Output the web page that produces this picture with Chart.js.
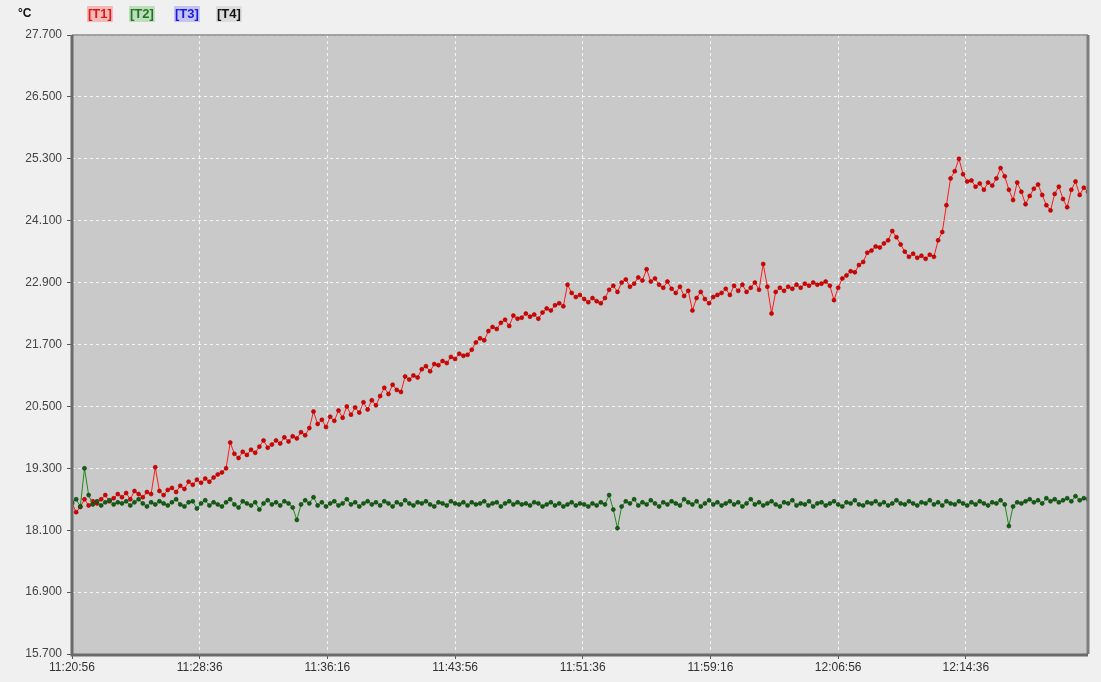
<!DOCTYPE html>
<html>
<head>
<meta charset="utf-8">
<title>Temperature log</title>
<script src="https://cdn.jsdelivr.net/npm/chart.js@4/dist/chart.umd.min.js"></script>
<style>
  html, body { margin: 0; padding: 0; background: #f0f0f0; }
  #wrap { position: relative; width: 1101px; height: 682px; }
  canvas { display: block; }
</style>
</head>
<body>
<div id="wrap"><canvas id="chart" width="1101" height="682"></canvas></div>
<script>
// Logger settings
const startTime = "11:20:56";
const endTime = "12:21:56";
const sampleStepSec = 15;

// Axis ticks
const timeTicks = ["11:20:56", "11:28:36", "11:36:16", "11:43:56", "11:51:36", "11:59:16", "12:06:56", "12:14:36"];
const tempTicks = [15.7, 16.9, 18.1, 19.3, 20.5, 21.7, 22.9, 24.1, 25.3, 26.5, 27.7];

// Channel legend
const channelNames = ["[T1]", "[T2]", "[T3]", "[T4]"];
const unitLabel = "°C";

// Channel T1 readings (°C), one per sample step
const t1Values = [
  18.62, 18.45, 18.55, 18.70, 18.58, 18.66, 18.62, 18.70, 18.78, 18.66, 18.72, 18.80,
  18.74, 18.82, 18.70, 18.86, 18.80, 18.74, 18.84, 18.80, 19.32, 18.86, 18.78, 18.88,
  18.92, 18.84, 18.96, 18.90, 19.04, 18.98, 19.08, 19.02, 19.10, 19.04, 19.12, 19.18,
  19.22, 19.30, 19.80, 19.58, 19.50, 19.62, 19.56, 19.66, 19.60, 19.72, 19.84, 19.70,
  19.76, 19.84, 19.78, 19.90, 19.82, 19.92, 19.88, 20.00, 19.94, 20.08, 20.40, 20.16,
  20.24, 20.10, 20.30, 20.22, 20.42, 20.28, 20.50, 20.34, 20.48, 20.38, 20.58, 20.44,
  20.62, 20.52, 20.70, 20.86, 20.74, 20.92, 20.82, 20.78, 21.08, 21.02, 21.10, 21.06,
  21.22, 21.28, 21.18, 21.32, 21.30, 21.38, 21.34, 21.46, 21.42, 21.52, 21.48, 21.50,
  21.60, 21.74, 21.82, 21.78, 21.96, 22.04, 22.00, 22.12, 22.18, 22.06, 22.26, 22.20,
  22.22, 22.30, 22.24, 22.28, 22.20, 22.32, 22.40, 22.36, 22.46, 22.50, 22.44, 22.86,
  22.70, 22.62, 22.66, 22.58, 22.52, 22.60, 22.54, 22.50, 22.60, 22.76, 22.84, 22.72,
  22.90, 22.96, 22.82, 22.88, 23.00, 22.94, 23.16, 22.92, 22.98, 22.86, 22.80, 22.92,
  22.78, 22.70, 22.82, 22.64, 22.74, 22.36, 22.60, 22.72, 22.58, 22.50, 22.62, 22.66,
  22.70, 22.78, 22.66, 22.84, 22.74, 22.86, 22.72, 22.80, 22.90, 22.76, 23.26, 22.82,
  22.30, 22.72, 22.80, 22.74, 22.82, 22.78, 22.86, 22.80, 22.88, 22.84, 22.90, 22.86,
  22.88, 22.92, 22.84, 22.56, 22.80, 22.98, 23.04, 23.12, 23.10, 23.24, 23.30, 23.48,
  23.52, 23.60, 23.58, 23.66, 23.72, 23.90, 23.78, 23.64, 23.50, 23.40, 23.46, 23.38,
  23.42, 23.36, 23.44, 23.40, 23.72, 23.88, 24.40, 24.92, 25.06, 25.30, 25.00, 24.86,
  24.88, 24.76, 24.82, 24.70, 24.84, 24.78, 24.92, 25.12, 24.96, 24.70, 24.50, 24.84,
  24.66, 24.42, 24.58, 24.72, 24.80, 24.60, 24.40, 24.30, 24.62, 24.76, 24.52, 24.36,
  24.70, 24.86, 24.60, 24.74, 24.66
];

// Channel T2 readings (°C), one per sample step
const t2Values = [
  18.64, 18.70, 18.56, 19.30, 18.78, 18.60, 18.66, 18.58, 18.64, 18.68, 18.60, 18.64,
  18.62, 18.66, 18.58, 18.64, 18.70, 18.62, 18.56, 18.64, 18.60, 18.66, 18.62, 18.58,
  18.64, 18.70, 18.60, 18.56, 18.64, 18.66, 18.52, 18.62, 18.68, 18.58, 18.64, 18.60,
  18.56, 18.64, 18.70, 18.60, 18.54, 18.66, 18.62, 18.58, 18.64, 18.50, 18.62, 18.68,
  18.60, 18.64, 18.58, 18.66, 18.62, 18.54, 18.30, 18.60, 18.68, 18.62, 18.74, 18.58,
  18.64, 18.56, 18.62, 18.66, 18.58, 18.62, 18.70, 18.60, 18.64, 18.56, 18.62, 18.66,
  18.60, 18.64, 18.58, 18.66, 18.62, 18.56, 18.64, 18.60, 18.68, 18.62, 18.58, 18.64,
  18.62, 18.66, 18.60, 18.56, 18.64, 18.62, 18.58, 18.66, 18.62, 18.60, 18.64, 18.58,
  18.64, 18.60, 18.62, 18.66, 18.58, 18.62, 18.64, 18.56, 18.62, 18.66, 18.60, 18.64,
  18.60, 18.62, 18.58, 18.64, 18.62, 18.56, 18.60, 18.64, 18.58, 18.62, 18.56, 18.60,
  18.64, 18.58, 18.62, 18.60, 18.56, 18.62, 18.58, 18.64, 18.60, 18.78, 18.50, 18.14,
  18.56, 18.66, 18.62, 18.70, 18.58, 18.64, 18.60, 18.68, 18.62, 18.56, 18.64, 18.60,
  18.66, 18.62, 18.58, 18.70, 18.64, 18.60, 18.66, 18.56, 18.62, 18.68, 18.60, 18.64,
  18.58, 18.62, 18.66, 18.60, 18.64, 18.56, 18.62, 18.70, 18.60, 18.64, 18.58, 18.62,
  18.66, 18.60, 18.56, 18.64, 18.62, 18.68, 18.58, 18.62, 18.60, 18.66, 18.56, 18.62,
  18.64, 18.58, 18.62, 18.66, 18.60, 18.56, 18.64, 18.62, 18.68, 18.60, 18.58, 18.64,
  18.62, 18.66, 18.60, 18.64, 18.58, 18.62, 18.68, 18.62, 18.60, 18.66, 18.62, 18.58,
  18.64, 18.62, 18.68, 18.60, 18.64, 18.58, 18.66, 18.62, 18.60, 18.66, 18.62, 18.58,
  18.64, 18.60, 18.66, 18.62, 18.58, 18.64, 18.62, 18.68, 18.60, 18.18, 18.56, 18.64,
  18.62, 18.66, 18.70, 18.64, 18.68, 18.62, 18.72, 18.66, 18.70, 18.64, 18.68, 18.72,
  18.66, 18.76, 18.68, 18.72, 18.70
];

// ---- helpers ----
function toSec(hms) {
  const p = hms.split(":").map(Number);
  return p[0] * 3600 + p[1] * 60 + p[2];
}
function toHms(sec) {
  const s = ((sec % 86400) + 86400) % 86400;
  const h = Math.floor(s / 3600), m = Math.floor((s % 3600) / 60), r = Math.round(s % 60);
  const pad = n => String(n).padStart(2, "0");
  return h + ":" + pad(m) + ":" + pad(r);
}
const t0 = toSec(startTime);
const tEnd = toSec(endTime) - t0;
const asPoints = vals => vals.map((v, i) => ({ x: i * sampleStepSec, y: v }));

const FONT = "'Liberation Sans Narrow', 'Liberation Sans', Arial, sans-serif";

// Grey plot area and its frame
const plotFrame = {
  id: "plotFrame",
  beforeDraw(chart) {
    const { ctx, chartArea: a } = chart;
    ctx.save();
    ctx.fillStyle = "#c9c9c9";
    ctx.fillRect(a.left, a.top, a.right - a.left, a.bottom - a.top);
    ctx.restore();
  },
  afterDraw(chart) {
    const { ctx, chartArea: a } = chart;
    ctx.save();
    // top edge
    ctx.strokeStyle = "#8a8a8a";
    ctx.lineWidth = 1.5;
    ctx.beginPath(); ctx.moveTo(a.left, a.top); ctx.lineTo(a.right, a.top); ctx.stroke();
    // right edge
    ctx.strokeStyle = "#7c7c7c";
    ctx.lineWidth = 3;
    ctx.beginPath(); ctx.moveTo(a.right, a.top); ctx.lineTo(a.right, a.bottom); ctx.stroke();
    // left and bottom axis lines
    ctx.strokeStyle = "#6a6a6a";
    ctx.lineWidth = 3;
    ctx.beginPath(); ctx.moveTo(a.left, a.top); ctx.lineTo(a.left, a.bottom + 1); ctx.lineTo(a.right, a.bottom + 1); ctx.stroke();
    ctx.restore();
  }
};

// Unit label and bracketed channel tags
const channelTags = {
  id: "channelTags",
  afterDraw(chart) {
    const { ctx } = chart;
    const tagStyles = [
      { x: 88,  bg: "#f2b9b9", fg: "#e01818" },
      { x: 130, bg: "#bfdcbf", fg: "#1c7a1c" },
      { x: 175, bg: "#c4c4f2", fg: "#1a1ae0" },
      { x: 217, bg: "#dcdcdc", fg: "#111111" }
    ];
    ctx.save();
    ctx.textBaseline = "middle";
    ctx.textAlign = "left";
    ctx.font = "bold 12px " + FONT;
    ctx.fillStyle = "#111";
    ctx.fillText(unitLabel, 18, 14);
    ctx.font = "bold 13px " + FONT;
    channelNames.forEach((name, i) => {
      const st = tagStyles[i];
      const w = ctx.measureText(name).width;
      ctx.fillStyle = st.bg;
      ctx.fillRect(st.x - 1, 6, w + 2, 16);
      ctx.fillStyle = st.fg;
      ctx.fillText(name, st.x, 14);
    });
    ctx.restore();
  }
};

const gridStyle = {
  color: "rgba(250,250,250,0.9)",
  lineWidth: 1,
  tickLength: 5,
  tickColor: "#555",
  tickWidth: 1,
  drawTicks: true,
  tickBorderDash: []
};

new Chart(document.getElementById("chart"), {
  type: "line",
  data: {
    datasets: [
      {
        label: channelNames[0],
        data: asPoints(t1Values),
        borderColor: "#ff1a1a",
        borderWidth: 1,
        pointRadius: 2,
        pointBackgroundColor: "#d80000",
        pointBorderColor: "#a00000",
        pointBorderWidth: 0.6,
        tension: 0,
        order: 1
      },
      {
        label: channelNames[1],
        data: asPoints(t2Values),
        borderColor: "#1f8a1f",
        borderWidth: 1,
        pointRadius: 2,
        pointBackgroundColor: "#125e12",
        pointBorderColor: "#0a3e0a",
        pointBorderWidth: 0.6,
        tension: 0,
        order: 0
      }
    ]
  },
  options: {
    responsive: false,
    devicePixelRatio: 1,
    animation: false,
    layout: { padding: { top: 35, right: 13, left: 0, bottom: 0 } },
    plugins: {
      legend: { display: false },
      tooltip: { enabled: false }
    },
    scales: {
      x: {
        type: "linear",
        min: 0,
        max: tEnd,
        border: { display: false, dash: [3, 3] },
        grid: gridStyle,
        afterBuildTicks(scale) {
          scale.ticks = timeTicks.map(t => ({ value: toSec(t) - t0 }));
        },
        afterFit(scale) { scale.height = 28; },
        ticks: {
          autoSkip: false,
          maxRotation: 0,
          padding: 1,
          color: "#333",
          font: { family: FONT, size: 12 },
          callback: v => toHms(v + t0)
        }
      },
      y: {
        min: tempTicks[0],
        max: tempTicks[tempTicks.length - 1],
        border: { display: false, dash: [3, 3] },
        grid: gridStyle,
        afterBuildTicks(scale) {
          scale.ticks = tempTicks.map(v => ({ value: v }));
        },
        afterFit(scale) { scale.width = 72; },
        ticks: {
          autoSkip: false,
          padding: 5,
          color: "#444",
          font: { family: FONT, size: 12 },
          callback: v => Number(v).toFixed(3)
        }
      }
    }
  },
  plugins: [plotFrame, channelTags]
});
</script>
</body>
</html>
